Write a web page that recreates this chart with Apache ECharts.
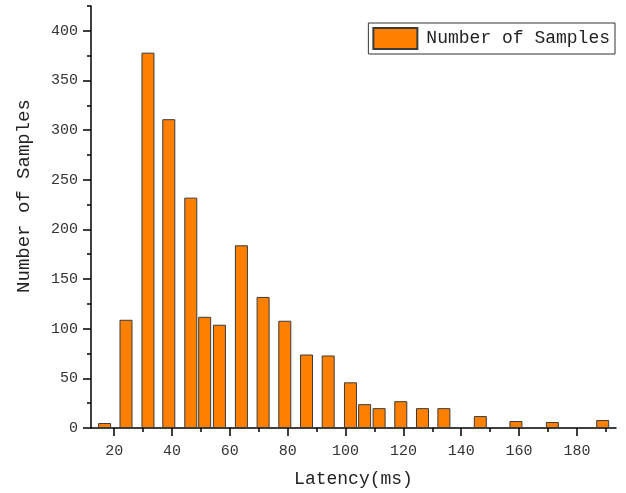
<!DOCTYPE html>
<html>
<head>
<meta charset="utf-8">
<script src="https://cdn.jsdelivr.net/npm/echarts@6/dist/echarts.min.js"></script>
<style>html,body{margin:0;padding:0;background:#fff}#c{width:626px;height:493px}</style>
</head>
<body>
<div id="c"></div>
<script>
const binCenters = [16.7, 24.1, 31.7, 38.9, 46.5, 51.3, 56.4, 64.0, 71.5, 79.0, 86.5, 94.0, 101.7, 106.6, 111.6, 119.1, 126.6, 134.0, 146.6, 158.9, 171.5, 188.9];
const counts = [5, 109, 378, 311, 232, 112, 104, 184, 132, 108, 74, 73, 46, 24, 20, 27, 20, 20, 12, 7, 6, 8];
const xMajorTicks = [20, 40, 60, 80, 100, 120, 140, 160, 180];
const xMinorTicks = [30, 50, 70, 90, 110, 130, 150, 170, 190];
const yMajorTicks = [0, 50, 100, 150, 200, 250, 300, 350, 400];
const yMinorTicks = [25, 75, 125, 175, 225, 275, 325, 375, 425];
const seriesName = 'Number of Samples';
const xTitle = 'Latency(ms)';
const yTitle = 'Number of Samples';

const FONT = 'Liberation Mono';
const chart = echarts.init(document.getElementById('c'), null, {renderer: 'canvas'});
const axisLine = {show: true, lineStyle: {color: '#000', width: 1.5}};
chart.setOption({
  animation: false,
  grid: {left: 91, right: 10, top: 6, bottom: 65},
  legend: {
    right: 11, top: 23,
    itemWidth: 44, itemHeight: 21,
    padding: [4, 5, 4, 4],
    borderColor: '#333', borderWidth: 1,
    icon: 'rect',
    textStyle: {fontFamily: FONT, fontSize: 18, color: '#222', padding: [0, 0, 0, 4]},
    data: [seriesName]
  },
  xAxis: [{
    type: 'value', min: 12, max: 193.5,
    axisLine: axisLine,
    splitLine: {show: false},
    axisTick: {show: true, customValues: xMajorTicks, length: 8, lineStyle: {color: '#000', width: 1.5}},
    axisLabel: {customValues: xMajorTicks, fontFamily: FONT, fontSize: 15, color: '#333', margin: 16},
    name: xTitle, nameLocation: 'middle', nameGap: 42,
    nameTextStyle: {fontFamily: FONT, fontSize: 18, color: '#222'}
  }, {
    type: 'value', min: 12, max: 193.5, position: 'bottom',
    axisLine: {show: false},
    splitLine: {show: false},
    axisTick: {show: true, customValues: xMinorTicks, length: 4, lineStyle: {color: '#000', width: 1.5}},
    axisLabel: {show: false}
  }],
  yAxis: [{
    type: 'value', min: 0, max: 425,
    axisLine: axisLine,
    splitLine: {show: false},
    axisTick: {show: true, customValues: yMajorTicks, length: 8, lineStyle: {color: '#000', width: 1.5}},
    axisLabel: {customValues: yMajorTicks, fontFamily: FONT, fontSize: 15, color: '#333', margin: 13},
    name: yTitle, nameLocation: 'middle', nameGap: 58, nameRotate: 90,
    nameTextStyle: {fontFamily: FONT, fontSize: 19, color: '#222', padding: [0, 0, 0, 42]}
  }, {
    type: 'value', min: 0, max: 425, position: 'left',
    axisLine: {show: false},
    splitLine: {show: false},
    axisTick: {show: true, customValues: yMinorTicks, length: 4, lineStyle: {color: '#000', width: 1.5}},
    axisLabel: {show: false}
  }],
  series: [{
    name: seriesName,
    type: 'bar',
    barWidth: 13,
    xAxisIndex: 0, yAxisIndex: 0,
    itemStyle: {color: '#FF8000', borderColor: '#3a3a3a', borderWidth: 1},
    data: binCenters.map((x, i) => [x, counts[i]])
  }]
});
</script>
</body>
</html>
